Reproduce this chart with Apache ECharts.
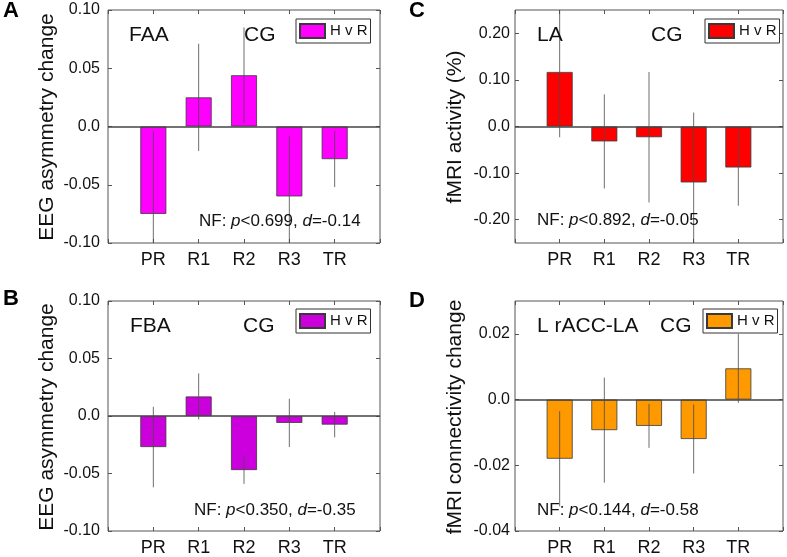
<!DOCTYPE html>
<html><head><meta charset="utf-8">
<script src="https://cdn.jsdelivr.net/npm/echarts@6/dist/echarts.min.js"></script>
<style>html,body{margin:0;padding:0;background:#fff}#c{width:787px;height:557px}</style>
</head><body><div id="c"></div>
<script>
// ---------- data ----------
const categories = ['PR', 'R1', 'R2', 'R3', 'TR'];
const legendLabel = 'H v R';

const faaMean = [-0.075, 0.025, 0.044, -0.060, -0.028];
const faaErr  = [0.071, 0.046, 0.041, 0.052, 0.024];

const fbaMean = [-0.027, 0.017, -0.047, -0.006, -0.0075];
const fbaErr  = [0.035, 0.020, 0.012, 0.021, 0.011];

const laMean  = [0.117, -0.032, -0.023, -0.120, -0.088];
const laErr   = [0.140, 0.101, 0.140, 0.150, 0.082];

const connMean = [-0.018, -0.0093, -0.008, -0.012, 0.0095];
const connErr  = [0.0145, 0.016, 0.0067, 0.0105, 0.0105];

const yTicksEEG  = [-0.10, -0.05, 0, 0.05, 0.10];
const yLabelsEEG = ['-0.10', '-0.05', '0.0', '0.05', '0.10'];
const yTicksLA   = [-0.20, -0.10, 0, 0.10, 0.20];
const yLabelsLA  = ['-0.20', '-0.10', '0.0', '0.10', '0.20'];
const yTicksConn  = [-0.04, -0.02, 0, 0.02];
const yLabelsConn = ['-0.04', '-0.02', '0.0', '0.02'];

const pValues = ['0.699', '0.350', '0.892', '0.144'];
const dValues = ['-0.14', '-0.35', '-0.05', '-0.58'];

// ---------- layout / style ----------
const FONT = '"Liberation Sans", Arial, Helvetica, sans-serif';
const panels = [
  { letter: 'A', mean: faaMean, err: faaErr, color: '#FF00FF', min: -0.10, max: 0.10,
    ticks: yTicksEEG, labels: yLabelsEEG, ytitle: 'EEG asymmetry change',
    grid: { left: 108, top: 10, width: 272, height: 233 }, labelMargin: 8,
    letterPos: [11, 11], titlePos: [47, 127],
    notes: [{ t: 'FAA', x: 129, y: 35.5 }, { t: 'CG', x: 244, y: 35.5 }],
    nfPos: [199, 221], legendPos: [296, 19] },
  { letter: 'B', mean: fbaMean, err: fbaErr, color: '#CC00DD', min: -0.10, max: 0.10,
    ticks: yTicksEEG, labels: yLabelsEEG, ytitle: 'EEG asymmetry change',
    grid: { left: 108, top: 301, width: 272, height: 233 }, labelMargin: 8,
    letterPos: [11, 299], titlePos: [47, 417],
    notes: [{ t: 'FBA', x: 130, y: 326 }, { t: 'CG', x: 243, y: 326 }],
    nfPos: [194, 510], legendPos: [296, 309] },
  { letter: 'C', mean: laMean, err: laErr, color: '#FF0000', min: -0.25, max: 0.25,
    ticks: yTicksLA, labels: yLabelsLA, ytitle: 'fMRI activity (%)',
    grid: { left: 515, top: 10, width: 268, height: 233 }, labelMargin: 5,
    letterPos: [417, 11], titlePos: [455, 127],
    notes: [{ t: 'LA', x: 537, y: 35.5 }, { t: 'CG', x: 651, y: 35.5 }],
    nfPos: [537, 220], legendPos: [705, 19] },
  { letter: 'D', mean: connMean, err: connErr, color: '#FF9900', min: -0.04, max: 0.03,
    ticks: yTicksConn, labels: yLabelsConn, ytitle: 'fMRI connectivity change',
    grid: { left: 515, top: 301, width: 268, height: 232 }, labelMargin: 5,
    letterPos: [417, 301], titlePos: [455, 417],
    notes: [{ t: 'L rACC-LA', x: 537, y: 326 }, { t: 'CG', x: 660, y: 326 }],
    nfPos: [537, 510], legendPos: [703, 309] }
];

const padded = ['_s'].concat(categories, ['_e']);
const hidePad = v => (v.charAt(0) === '_' ? '' : v);

function labelFor(ticks, labels) {
  return v => {
    let best = 0, bd = Infinity;
    ticks.forEach((t, i) => { const d = Math.abs(t - v); if (d < bd) { bd = d; best = i; } });
    return labels[best];
  };
}

const option = {
  animation: false,
  backgroundColor: '#fff',
  textStyle: { fontFamily: FONT },
  grid: [], xAxis: [], yAxis: [], series: [], legend: [], graphic: []
};

panels.forEach((p, k) => {
  option.grid.push(Object.assign({ show: true, borderColor: '#555', borderWidth: 1, backgroundColor: 'transparent' }, p.grid));
  option.xAxis.push({
    type: 'category', gridIndex: k, data: padded, boundaryGap: false, position: 'bottom',
    axisLine: { show: false, onZero: false },
    axisTick: { show: true, inside: true, length: 4, interval: 0, lineStyle: { color: '#555' } },
    axisLabel: { interval: 0, formatter: hidePad, fontSize: 18, color: '#111', margin: 8, fontFamily: FONT },
    splitLine: { show: false }
  });
  option.xAxis.push({
    type: 'category', gridIndex: k, data: padded, boundaryGap: false, position: 'top',
    axisLine: { show: false, onZero: false },
    axisTick: { show: true, inside: true, length: 4, interval: 0, lineStyle: { color: '#555' } },
    axisLabel: { show: false }, splitLine: { show: false }
  });
  const fmt = labelFor(p.ticks, p.labels);
  option.yAxis.push({
    type: 'value', gridIndex: k, min: p.min, max: p.max, position: 'left',
    axisLine: { show: false },
    axisTick: { show: true, inside: true, length: 4, customValues: p.ticks, lineStyle: { color: '#555' } },
    axisLabel: { customValues: p.ticks, formatter: fmt, fontSize: 16, color: '#111', margin: p.labelMargin, fontFamily: FONT },
    splitLine: { show: false }
  });
  option.yAxis.push({
    type: 'value', gridIndex: k, min: p.min, max: p.max, position: 'right',
    axisLine: { show: false },
    axisTick: { show: true, inside: true, length: 4, customValues: p.ticks, lineStyle: { color: '#555' } },
    axisLabel: { show: false }, splitLine: { show: false }
  });

  const barData = padded.map(c => { const i = categories.indexOf(c); return i >= 0 ? p.mean[i] : '-'; });
  option.series.push({
    name: 'S' + p.letter, type: 'bar', xAxisIndex: 2 * k, yAxisIndex: 2 * k,
    data: barData, barWidth: 26,
    itemStyle: { color: p.color, borderColor: '#3a3a3a', borderWidth: 0.8 },
    markLine: {
      silent: true, symbol: ['none', 'none'], label: { show: false },
      lineStyle: { color: '#444', width: 1.5, type: 'solid' },
      data: [{ yAxis: 0 }], animation: false
    },
    z: 2
  });
  const errData = categories.map((c, i) => [c, p.mean[i] - p.err[i], p.mean[i] + p.err[i]]);
  option.series.push({
    name: 'E' + p.letter, type: 'custom', xAxisIndex: 2 * k, yAxisIndex: 2 * k,
    data: errData, clip: true, z: 5, silent: true,
    encode: { x: 0, y: [1, 2] },
    renderItem: (params, api) => {
      const a = api.coord([api.value(0), api.value(1)]);
      const b = api.coord([api.value(0), api.value(2)]);
      return { type: 'line', shape: { x1: a[0], y1: a[1], x2: b[0], y2: b[1] },
        style: { stroke: '#4a4a4a', lineWidth: 1, opacity: 0.8 } };
    }
  });

  option.legend.push({
    data: ['S' + p.letter], left: p.legendPos[0], top: p.legendPos[1],
    orient: 'horizontal', icon: 'rect', itemWidth: 25, itemHeight: 14,
    padding: [4, 3, 4, 3], borderColor: '#333', borderWidth: 1, borderRadius: 0,
    backgroundColor: '#fff', selectedMode: false,
    formatter: () => legendLabel,
    textStyle: { fontSize: 15, color: '#111', fontFamily: FONT }
  });

  option.graphic.push({ type: 'text', x: p.letterPos[0], y: p.letterPos[1], silent: true,
    style: { text: p.letter, fontSize: 22, fontWeight: 'bold', fontFamily: FONT, fill: '#000', align: 'center', verticalAlign: 'middle' } });
  option.graphic.push({ type: 'text', x: p.titlePos[0], y: p.titlePos[1], rotation: Math.PI / 2, silent: true,
    style: { text: p.ytitle, fontSize: 21, fontFamily: FONT, fill: '#111', align: 'center', verticalAlign: 'middle' } });
  p.notes.forEach(n => option.graphic.push({ type: 'text', x: n.x, y: n.y, silent: true, z: 10,
    style: { text: n.t, fontSize: 21, fontFamily: FONT, fill: '#111', align: 'left', verticalAlign: 'middle' } }));
  option.graphic.push({ type: 'text', x: p.nfPos[0], y: p.nfPos[1], silent: true, z: 10,
    style: {
      text: 'NF: {i|p}<' + pValues[k] + ', {i|d}=' + dValues[k],
      fontSize: 17, fontFamily: FONT, fill: '#111', align: 'left', verticalAlign: 'middle',
      rich: { i: { fontStyle: 'italic', fontSize: 17, fontFamily: FONT, fill: '#111' } }
    } });
});

const chart = echarts.init(document.getElementById('c'), null, { renderer: 'canvas' });
chart.setOption(option);
</script></body></html>
